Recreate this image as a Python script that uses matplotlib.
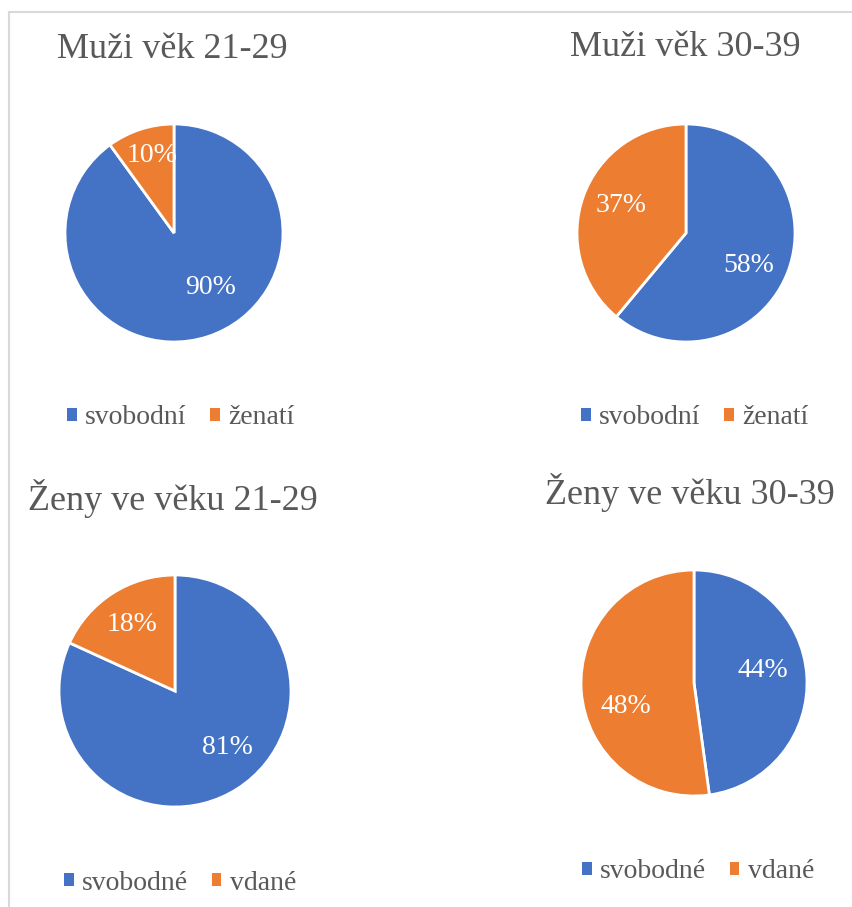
import matplotlib
matplotlib.use("Agg")
import matplotlib.pyplot as plt
import numpy as np
from matplotlib.patches import Patch

plt.rcParams['font.family'] = ['Liberation Serif', 'DejaVu Serif']

W, H = 853, 907

titles = ["Muži věk 21-29", "Muži věk 30-39", "Ženy ve věku 21-29", "Ženy ve věku 30-39"]
legend_labels = [["svobodní", "ženatí"], ["svobodní", "ženatí"],
                 ["svobodné", "vdané"], ["svobodné", "vdané"]]
values = [[90, 10], [58, 37], [81, 18], [44, 48]]

colors = ["#4472C4", "#ED7D31"]
text_gray = "#595959"

# layout (pixels, y from top)
centers = [(174, 233), (686, 233), (175, 691), (694, 683)]
radii = [109, 109, 116, 113]
title_pos = [(172, 50), (685, 48), (173, 498), (690, 492)]
legend_pos = [(181, 418), (695, 418), (180, 883), (698, 872)]
# label placement: (distance as fraction of radius, clockwise angle shift in degrees)
label_place = [[(0.60, -16), (0.74, 2)],
               [(0.65, 7), (0.65, 3)],
               [(0.66, -10), (0.68, 0)],
               [(0.62, -6), (0.64, -15)]]

fig = plt.figure(figsize=(W / 100, H / 100), dpi=100)

for i in range(4):
    ax = fig.add_axes([0, 0, 1, 1])
    cx, cy = centers[i]
    vals = values[i]
    wedges, _ = ax.pie(vals, colors=colors, startangle=90, counterclock=False,
                       center=(cx, H - cy), radius=radii[i],
                       wedgeprops=dict(edgecolor='white', linewidth=2),
                       frame=True)
    ax.set_xlim(0, W)
    ax.set_ylim(0, H)
    ax.set_aspect('auto')
    ax.axis('off')
    for j, w in enumerate(wedges):
        d, shift = label_place[i][j]
        ang = np.deg2rad((w.theta1 + w.theta2) / 2 - shift)
        dist = d * radii[i]
        ax.text(cx + dist * np.cos(ang), H - cy + dist * np.sin(ang), f"{vals[j]}%",
                ha='center', va='center', color='white', fontsize=20)
    tx, ty = title_pos[i]
    ax.text(tx, H - ty, titles[i], ha='center', va='center', color=text_gray, fontsize=26)
    handles = [Patch(facecolor=colors[k], edgecolor='none', label=legend_labels[i][k]) for k in range(2)]
    lx, ly = legend_pos[i]
    ax.legend(handles=handles, loc='center', ncol=2,
              bbox_to_anchor=(lx / W, 1 - ly / H), bbox_transform=fig.transFigure,
              frameon=False, fontsize=20, handlelength=0.35, handleheight=0.35,
              handletextpad=0.3, columnspacing=0.85, labelcolor=text_gray,
              borderpad=0, borderaxespad=0)

# outer frame lines
frame_ax = fig.add_axes([0, 0, 1, 1])
frame_ax.set_xlim(0, W)
frame_ax.set_ylim(0, H)
frame_ax.axis('off')
frame_ax.plot([9, W], [H - 12, H - 12], color='#d9d9d9', lw=1.5)
frame_ax.plot([9, 9], [H - 12, 0], color='#d9d9d9', lw=1.5)

fig.savefig("out.png", dpi=100)
